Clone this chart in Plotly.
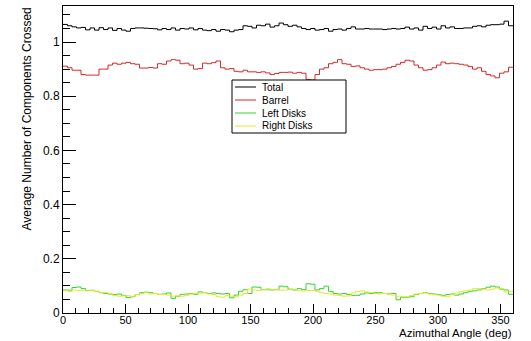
import numpy as np
import plotly.graph_objects as go

# bin edges: 100 bins over 0..360 deg
n_bins = 100
x_min, x_max = 0.0, 360.0

total = [
    1.065, 1.060, 1.056, 1.052, 1.054, 1.045, 1.052, 1.044, 1.053, 1.046,
    1.052, 1.043, 1.050, 1.044, 1.040, 1.050, 1.052, 1.052, 1.051, 1.050,
    1.049, 1.045, 1.050, 1.046, 1.052, 1.044, 1.050, 1.048, 1.052, 1.045,
    1.050, 1.044, 1.042, 1.046, 1.040, 1.046, 1.044, 1.038, 1.044, 1.046,
    1.060, 1.058, 1.052, 1.062, 1.060, 1.066, 1.055, 1.060, 1.070, 1.064,
    1.058, 1.062, 1.056, 1.050, 1.046, 1.050, 1.044, 1.046, 1.050, 1.040,
    1.046, 1.048, 1.044, 1.050, 1.056, 1.048, 1.048, 1.050, 1.048, 1.048,
    1.048, 1.046, 1.048, 1.050, 1.048, 1.050, 1.055, 1.048, 1.052, 1.044,
    1.058, 1.050, 1.055, 1.048, 1.060, 1.052, 1.056, 1.050, 1.050, 1.052,
    1.052, 1.058, 1.060, 1.056, 1.062, 1.064, 1.064, 1.066, 1.077, 1.060,
]
barrel = [
    0.911, 0.905, 0.896, 0.896, 0.880, 0.878, 0.878, 0.878, 0.900, 0.900,
    0.915, 0.922, 0.918, 0.922, 0.925, 0.920, 0.918, 0.904, 0.904, 0.906,
    0.904, 0.920, 0.918, 0.930, 0.935, 0.933, 0.920, 0.922, 0.915, 0.900,
    0.902, 0.922, 0.920, 0.924, 0.930, 0.905, 0.900, 0.902, 0.892, 0.890,
    0.896, 0.890, 0.890, 0.888, 0.890, 0.886, 0.880, 0.884, 0.888, 0.888,
    0.889, 0.885, 0.888, 0.885, 0.862, 0.860, 0.880, 0.900, 0.905, 0.920,
    0.925, 0.935, 0.920, 0.918, 0.910, 0.912, 0.905, 0.900, 0.896, 0.898,
    0.898, 0.900, 0.905, 0.910, 0.918, 0.925, 0.933, 0.930, 0.915, 0.905,
    0.896, 0.898, 0.905, 0.915, 0.926, 0.920, 0.922, 0.920, 0.918, 0.915,
    0.910, 0.900, 0.905, 0.892, 0.880, 0.875, 0.868, 0.885, 0.890, 0.907,
]
left_disks = [
    0.085, 0.084, 0.094, 0.096, 0.090, 0.083, 0.084, 0.080, 0.075, 0.072,
    0.070, 0.068, 0.070, 0.065, 0.057, 0.060, 0.068, 0.075, 0.077, 0.075,
    0.072, 0.069, 0.070, 0.074, 0.054, 0.062, 0.069, 0.070, 0.072, 0.069,
    0.078, 0.075, 0.072, 0.074, 0.072, 0.070, 0.072, 0.056, 0.066, 0.080,
    0.086, 0.072, 0.096, 0.095, 0.086, 0.088, 0.085, 0.086, 0.099, 0.097,
    0.088, 0.085, 0.090, 0.086, 0.108, 0.106, 0.085, 0.090, 0.099, 0.080,
    0.072, 0.070, 0.072, 0.068, 0.065, 0.065, 0.070, 0.074, 0.072, 0.075,
    0.075, 0.072, 0.070, 0.072, 0.049, 0.058, 0.058, 0.060, 0.068, 0.072,
    0.075, 0.072, 0.070, 0.068, 0.065, 0.068, 0.070, 0.066, 0.070, 0.075,
    0.080, 0.082, 0.085, 0.090, 0.095, 0.099, 0.096, 0.088, 0.085, 0.069,
]
right_disks = [
    0.082, 0.080, 0.085, 0.083, 0.084, 0.082, 0.083, 0.080, 0.075, 0.075,
    0.072, 0.065, 0.062, 0.063, 0.064, 0.062, 0.068, 0.072, 0.075, 0.070,
    0.072, 0.068, 0.068, 0.066, 0.062, 0.063, 0.062, 0.065, 0.070, 0.072,
    0.073, 0.075, 0.070, 0.068, 0.060, 0.058, 0.064, 0.062, 0.060, 0.066,
    0.072, 0.088, 0.085, 0.083, 0.086, 0.085, 0.086, 0.088, 0.084, 0.085,
    0.086, 0.086, 0.084, 0.082, 0.083, 0.083, 0.080, 0.075, 0.072, 0.070,
    0.066, 0.065, 0.062, 0.063, 0.074, 0.080, 0.082, 0.078, 0.075, 0.072,
    0.070, 0.072, 0.068, 0.066, 0.062, 0.060, 0.060, 0.065, 0.070, 0.072,
    0.074, 0.070, 0.068, 0.066, 0.062, 0.060, 0.068, 0.074, 0.080, 0.082,
    0.085, 0.090, 0.090, 0.088, 0.085, 0.088, 0.092, 0.090, 0.078, 0.080,
]

series_names = ["Total", "Barrel", "Left Disks", "Right Disks"]
series_values = [total, barrel, left_disks, right_disks]
series_colors = ["#000000", "#d42a2a", "#33d633", "#e8e82e"]

x_tick_vals = [0, 50, 100, 150, 200, 250, 300, 350]
y_tick_vals = [0, 0.2, 0.4, 0.6, 0.8, 1.0]
y_tick_text = ["0", "0.2", "0.4", "0.6", "0.8", "1"]

edges = np.linspace(x_min, x_max, n_bins + 1)

fig = go.Figure()
for name, vals, col in zip(series_names, series_values, series_colors):
    fig.add_trace(go.Scatter(
        x=edges, y=list(vals) + [vals[-1]],
        mode="lines", line=dict(shape="hv", color=col, width=1),
        name=name, showlegend=False, hoverinfo="skip",
    ))

W, H = 531, 341
ml, mr, mt, mb = 63, 18, 6, 28
pw, ph = W - ml - mr, H - mt - mb

def px2paper_x(px):
    return (px - ml) / pw

def px2paper_y(py):
    return (H - mb - py) / ph

font_family = "Liberation Sans, Arial, sans-serif"

shapes = []
annotations = []
# legend box
lx0, lx1, ly0, ly1 = 232, 346, 80, 133
shapes.append(dict(type="rect", xref="paper", yref="paper",
                   x0=px2paper_x(lx0), x1=px2paper_x(lx1),
                   y0=px2paper_y(ly1), y1=px2paper_y(ly0),
                   line=dict(color="black", width=1), fillcolor="white", layer="above"))
for i, (name, col) in enumerate(zip(series_names, series_colors)):
    yy = 87 + i * 13
    shapes.append(dict(type="line", xref="paper", yref="paper",
                       x0=px2paper_x(235), x1=px2paper_x(256),
                       y0=px2paper_y(yy), y1=px2paper_y(yy),
                       line=dict(color=col, width=1), layer="above"))
    annotations.append(dict(xref="paper", yref="paper", x=px2paper_x(260), y=px2paper_y(yy),
                            xanchor="left", yanchor="middle", text=name, showarrow=False,
                            font=dict(size=10, color="black", family=font_family)))

annotations.append(dict(xref="paper", yref="paper", x=px2paper_x(514), y=px2paper_y(341),
                        xanchor="right", yanchor="bottom", text="Azimuthal Angle (deg)",
                        showarrow=False, font=dict(size=11.5, color="black", family=font_family)))
annotations.append(dict(xref="paper", yref="paper", x=px2paper_x(26), y=px2paper_y(6),
                        xanchor="center", yanchor="top", text="Average Number of Components Crossed",
                        textangle=-90, showarrow=False,
                        font=dict(size=12, color="black", family=font_family)))

fig.update_layout(
    width=W, height=H,
    margin=dict(l=ml, r=mr, t=mt, b=mb, pad=0),
    paper_bgcolor="white", plot_bgcolor="white",
    font=dict(family=font_family, size=12, color="black"),
    shapes=shapes, annotations=annotations,
    xaxis=dict(range=[x_min, x_max], tickvals=x_tick_vals, ticks="inside", ticklen=9,
               tickcolor="black", showline=True, linecolor="black", linewidth=1, mirror=True,
               showgrid=False, zeroline=False, ticklabelstandoff=-3,
               minor=dict(dtick=10, ticks="inside", ticklen=5, tickcolor="black", showgrid=False),
               tickfont=dict(size=11)),
    yaxis=dict(range=[0, 1.133], tickvals=y_tick_vals, ticktext=y_tick_text, ticks="inside",
               ticklen=13, tickcolor="black", showline=True, linecolor="black", linewidth=1,
               mirror=True, showgrid=False, zeroline=False,
               minor=dict(dtick=0.05, ticks="inside", ticklen=7, tickcolor="black", showgrid=False),
               tickfont=dict(size=12)),
)

fig.write_html("out.html")
